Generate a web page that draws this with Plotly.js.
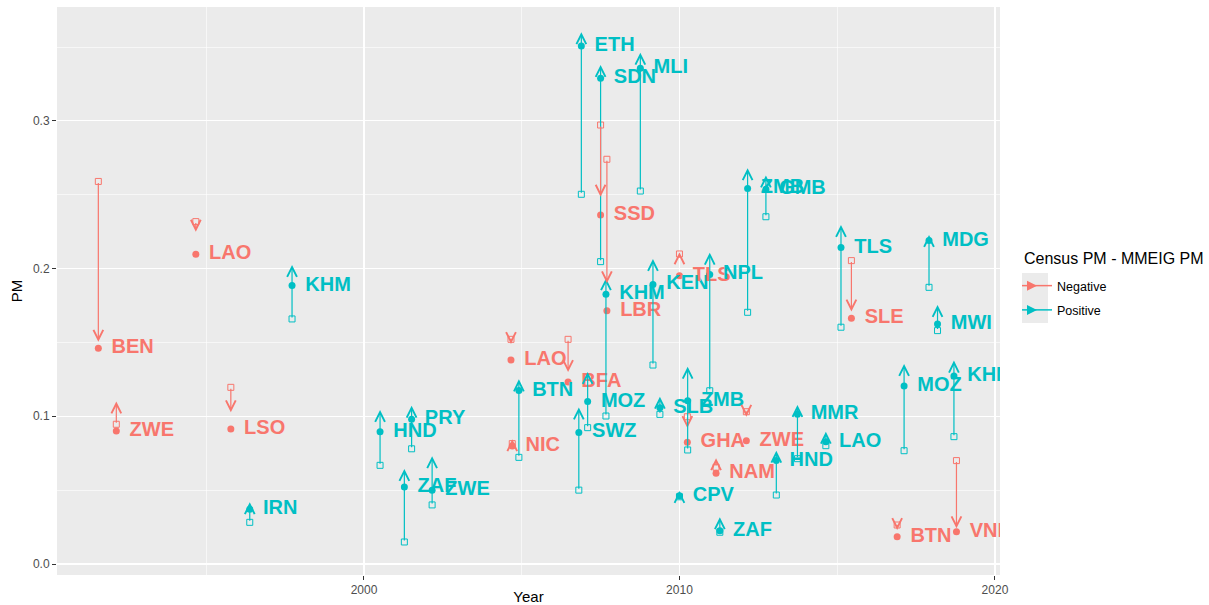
<!DOCTYPE html>
<html><head><meta charset="utf-8">
<script src="https://cdn.plot.ly/plotly-3.0.1.min.js"></script>
<style>body{margin:0;background:#fff}</style>
</head><body><div id="chart" style="width:1209px;height:605px"></div>
<script>
const countries = ["BEN","ZWE","LAO","LSO","IRN","KHM","HND","ZAF","PRY","ZWE","LAO","NIC","BTN","BFA","SWZ","ETH","MOZ","SDN","SSD","KHM","LBR","MLI","KEN","SLB","TLS","CPV","GHA","ZMB","NPL","NAM","ZAF","ZMB","ZWE","GMB","HND","MMR","LAO","TLS","SLE","BTN","MOZ","MDG","MWI","KHM","VNM"];
const years = [1991.58,1992.15,1994.67,1995.78,1996.38,1997.72,2000.51,2001.28,2001.51,2002.16,2004.66,2004.70,2004.91,2006.47,2006.81,2006.89,2007.09,2007.50,2007.50,2007.67,2007.70,2008.76,2009.16,2009.38,2010.00,2010.00,2010.25,2010.26,2010.96,2011.16,2011.28,2012.16,2012.12,2012.74,2013.07,2013.74,2014.64,2015.12,2015.45,2016.90,2017.12,2017.91,2018.18,2018.70,2018.78];
const censusPM = [0.146,0.090,0.2097,0.0914,0.037,0.1885,0.0896,0.0521,0.098,0.050,0.1381,0.0799,0.1174,0.1232,0.0891,0.3507,0.110,0.3288,0.2363,0.1826,0.1715,0.3356,0.1893,0.1058,0.1952,0.0462,0.0824,0.1106,0.196,0.0614,0.0225,0.2543,0.0835,0.2537,0.070,0.1013,0.0828,0.2142,0.1663,0.0185,0.1205,0.219,0.1625,0.1273,0.0219];
const mmeigPM = [0.259,0.0946,0.2318,0.1196,0.0282,0.1659,0.0668,0.0149,0.078,0.040,0.1521,0.0815,0.0722,0.1521,0.050,0.2503,0.0923,0.2047,0.2972,0.1002,0.274,0.2525,0.1347,0.1013,0.2099,0.0455,0.0997,0.0772,0.1173,0.0655,0.0215,0.1704,0.1031,0.2351,0.0467,0.0713,0.0801,0.1603,0.2054,0.0264,0.0767,0.1873,0.158,0.0862,0.070];
const arrowEnd = [0.1505,0.110,0.225,0.1027,0.0418,0.2024,0.1043,0.0643,0.1072,0.073,0.149,0.0845,0.125,0.130,0.1059,0.360,0.130,0.3378,0.2487,0.1935,0.190,0.3462,0.2065,0.1133,0.211,0.0495,0.092,0.1336,0.2108,0.0716,0.0316,0.268,0.0997,0.263,0.0767,0.1076,0.0896,0.2295,0.1709,0.023,0.1354,0.2227,0.1754,0.1377,0.0242];
const groups = ["Negative","Positive"];
const groupColors = {"Negative":"#F8766D","Positive":"#00BFC4"};
const legendTitle = "Census PM - MMEIG PM";

const FONT = "Liberation Sans, Arial, sans-serif";
const group = censusPM.map((c,i)=> (c - mmeigPM[i]) < 0 ? "Negative" : "Positive");
const col = group.map(g=>groupColors[g]);

const traces = [];
traces.push({x:years, y:mmeigPM, mode:'markers', type:'scatter', showlegend:false, hoverinfo:'skip',
  marker:{symbol:'square-open', size:6, color:col, line:{width:1, color:col}}});
traces.push({x:years, y:censusPM, mode:'markers', type:'scatter', showlegend:false, hoverinfo:'skip',
  marker:{symbol:'circle', size:7, color:col}});
traces.push({x:years.map(v=>v+0.42), y:censusPM, mode:'text', type:'scatter', showlegend:false, hoverinfo:'skip',
  text:countries, textposition:'middle right', cliponaxis:true,
  textfont:{family:FONT, size:20, color:col, weight:700}});
groups.forEach(g=>{
  traces.push({x:[null], y:[null], mode:'lines+markers', type:'scatter', name:g, legendgroup:g,
    line:{color:groupColors[g], width:1.5}, marker:{symbol:'arrow-right', size:10, color:groupColors[g]}});
});

// minimal drawn length so that very short arrows still show their head
const MINLEN = 0.0045;
const annotations = years.map((x,i)=>{
  const d = arrowEnd[i] - mmeigPM[i];
  const dir = d >= 0 ? 1 : -1;
  const tail = arrowEnd[i] - dir*Math.max(Math.abs(d), MINLEN);
  return {
    x:x, y:arrowEnd[i], ax:x, ay:tail, xref:'x', yref:'y', axref:'x', ayref:'y',
    text:'', showarrow:true, arrowhead:5, arrowsize:1.6, arrowwidth:1.2, arrowcolor:col[i],
    standoff:0, startstandoff:0
  };
});

const py = p => (575 - p)/568, px = p => (p - 57)/943;
annotations.push({xref:'paper', yref:'paper', x:px(1022), y:py(258), xanchor:'left', yanchor:'middle',
  text:legendTitle, showarrow:false, font:{size:16, color:'#000'}});

const layout = {
  width:1209, height:605,
  margin:{l:57, r:209, t:7, b:30},
  paper_bgcolor:'#ffffff', plot_bgcolor:'#EBEBEB',
  font:{family:FONT, color:'#000'},
  xaxis:{range:[1990.27,2020.16], tick0:2000, dtick:10, showgrid:true, gridcolor:'#ffffff', gridwidth:1.2,
    zeroline:false, showline:false, ticks:'outside', ticklen:4, tickcolor:'#333333', tickwidth:1,
    tickfont:{size:12, color:'#4D4D4D'},
    minor:{dtick:5, tick0:2000, showgrid:true, gridcolor:'#ffffff', gridwidth:0.6},
    title:{text:'Year', font:{size:15, color:'#000'}, standoff:4}},
  yaxis:{range:[-0.00745,0.3771], tick0:0, dtick:0.1, tickformat:'.1f', showgrid:true, gridcolor:'#ffffff', gridwidth:1.2,
    zeroline:false, showline:false, ticks:'outside', ticklen:4, tickcolor:'#333333', tickwidth:1,
    tickfont:{size:12, color:'#4D4D4D'},
    minor:{dtick:0.05, tick0:0, showgrid:true, gridcolor:'#ffffff', gridwidth:0.6},
    title:{text:'PM', font:{size:15, color:'#000'}, standoff:6}},
  showlegend:true,
  legend:{x:px(1017), xanchor:'left', y:py(271), yanchor:'top', bgcolor:'rgba(0,0,0,0)', borderwidth:0,
    font:{size:12.5, color:'#000'}, tracegroupgap:5},
  shapes:[{type:'rect', xref:'paper', yref:'paper', x0:px(1022), x1:px(1048), y0:py(323), y1:py(273),
    fillcolor:'#EBEBEB', line:{width:0}, layer:'below'}],
  annotations:annotations
};
Plotly.newPlot('chart', traces, layout, {displayModeBar:false, staticPlot:true});
</script>
</body></html>
